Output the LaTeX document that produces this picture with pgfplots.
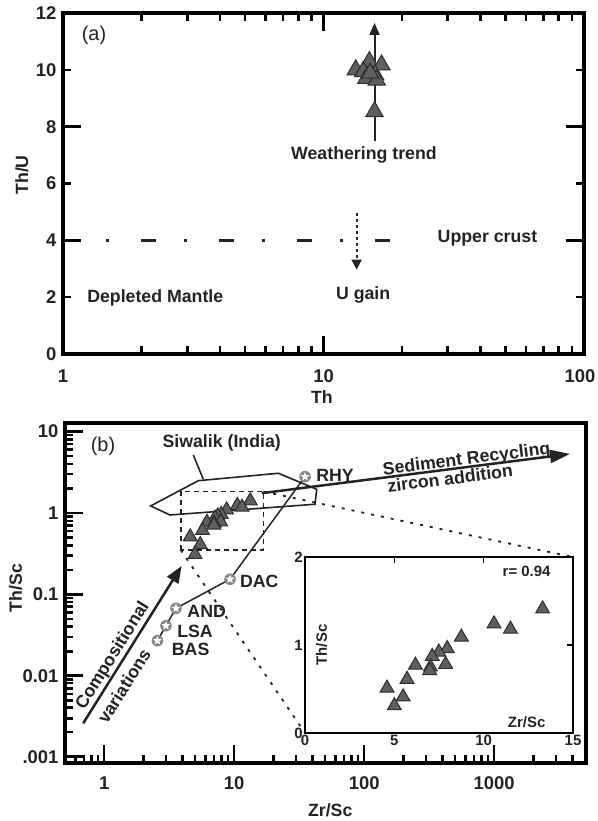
\documentclass[border=0pt]{standalone}
\usepackage{pgfplots}
\pgfplotsset{compat=1.18}
\usepackage{fontspec}
\setmainfont{Liberation Sans}
\usetikzlibrary{arrows.meta}
\definecolor{tri}{RGB}{95,95,95}
\definecolor{triedge}{RGB}{45,45,45}
\definecolor{circ}{RGB}{135,135,135}
\definecolor{ink}{RGB}{35,35,35}
\pgfdeclareplotmark{starcirc}{%
  \pgfpathcircle{\pgfpointorigin}{\pgfplotmarksize}%
  \pgfsetfillcolor{circ}%
  \pgfusepath{fill}%
  \pgfpathmoveto{\pgfpointpolar{90}{0.8\pgfplotmarksize}}%
  \pgfpathlineto{\pgfpointpolar{126}{0.34\pgfplotmarksize}}%
  \pgfpathlineto{\pgfpointpolar{162}{0.8\pgfplotmarksize}}%
  \pgfpathlineto{\pgfpointpolar{198}{0.34\pgfplotmarksize}}%
  \pgfpathlineto{\pgfpointpolar{234}{0.8\pgfplotmarksize}}%
  \pgfpathlineto{\pgfpointpolar{270}{0.34\pgfplotmarksize}}%
  \pgfpathlineto{\pgfpointpolar{306}{0.8\pgfplotmarksize}}%
  \pgfpathlineto{\pgfpointpolar{342}{0.34\pgfplotmarksize}}%
  \pgfpathlineto{\pgfpointpolar{18}{0.8\pgfplotmarksize}}%
  \pgfpathlineto{\pgfpointpolar{54}{0.34\pgfplotmarksize}}%
  \pgfpathclose
  \pgfsetfillcolor{white}%
  \pgfusepath{fill}%
}
\tikzset{
  lab/.style={font=\fontsize{17.8}{19}\selectfont\bfseries, text=ink, inner sep=0pt},
  tk/.style={line width=2.6bp, draw=black},
  tki/.style={line width=1.5bp, draw=black},
  fr/.style={line width=3.2bp, draw=black},
}
\pgfplotstableread{
x y
13.3 10.00
15.0 10.29
16.7 10.17
14.2 9.94
15.8 9.82
14.6 9.70
16.0 9.64
15.1 9.88
15.7 8.53
}\tableA
\pgfplotstableread{
x y
13.3 1.41
10.58 1.24
11.5 1.18
8.75 1.09
7.96 0.96
7.49 0.92
7.12 0.87
6.18 0.77
7.87 0.78
7.02 0.75
6.98 0.71
5.71 0.61
4.59 0.51
5.49 0.41
5.0 0.31
}\tableB
\begin{document}
\begin{tikzpicture}
\path[use as bounding box] (0,0) rectangle (598bp,821bp);
% ---------------- panel (a)
\begin{axis}[
  scale only axis, clip=false,
  at={(63bp,467bp)}, anchor=south west,
  width=521bp, height=341bp,
  xmode=log, xmin=1, xmax=100, ymin=0, ymax=12,
  xtick={1,10,100}, xticklabels={1,10,{100\hspace*{8bp}}},
  ytick={0,2,4,6,8,10,12},
  tick style={draw=none},
  xticklabel style={font=\fontsize{18.5}{19}\selectfont\bfseries, text=ink, yshift=-12bp},
  yticklabel style={font=\fontsize{18.5}{19}\selectfont\bfseries, text=ink, xshift=-3bp},
  xlabel={Th}, ylabel={Th/U},
  label style={font=\fontsize{17.8}{19}\selectfont\bfseries, text=ink},
  xlabel style={at={(axis description cs:0.497,-0.126)}, anchor=center},
  ylabel style={at={(axis description cs:-0.079,0.525)}, anchor=center},
  /pgf/number format/assume math mode=true,
]
\addplot[only marks, mark=triangle*, mark size=10bp,
  mark options={fill=tri, draw=triedge, line width=1bp}] table {\tableA};
\draw[line width=2bp, ink, -{Triangle[length=12bp,width=10bp]}]
  (axis cs:15.7,7.48) -- (axis cs:15.7,11.65);
\draw[line width=2.5bp, ink, dash pattern=on 15bp off 28bp on 3bp off 32bp]
  (axis cs:1,4) -- (axis cs:23,4);
\draw[line width=2bp, ink, dash pattern=on 3bp off 3bp, -{Triangle[length=10bp,width=10bp]}]
  (axis cs:13.4,4.97) -- (axis cs:13.4,2.97);
\node[font=\fontsize{20}{20}\selectfont, text=ink] at (axis cs:1.315,11.23) {(a)};
\node[lab] at (axis cs:14.3,7.0) {Weathering trend};
\node[lab] at (axis cs:42.6,4.06) {Upper crust};
\node[lab] at (axis cs:2.26,1.98) {Depleted Mantle};
\node[lab] at (axis cs:14.2,2.09) {U gain};
\end{axis}
% ---------------- panel (b)
\begin{axis}[
  scale only axis, clip=false,
  at={(65bp,58bp)}, anchor=south west,
  width=521bp, height=340bp,
  xmode=log, ymode=log,
  xmin=0.5, xmax=5090, ymin=0.000857, ymax=12.7,
  tick pos=left,
  xtick={1,10,100,1000}, xticklabels={1,10,100,1000},
  ytick={0.001,0.01,0.1,1,10}, yticklabels={.001,0.01,0.1,1,10},
  tick style={draw=none},
  xticklabel style={font=\fontsize{18.5}{19}\selectfont\bfseries, text=ink, yshift=-10bp},
  yticklabel style={font=\fontsize{18.5}{19}\selectfont\bfseries, text=ink, xshift=-3bp},
  xlabel={Zr/Sc}, ylabel={Th/Sc},
  label style={font=\fontsize{17.8}{19}\selectfont\bfseries, text=ink},
  xlabel style={at={(axis description cs:0.509,-0.138)}, anchor=center},
  ylabel style={at={(axis description cs:-0.095,0.515)}, anchor=center},
  /pgf/number format/assume math mode=true,
]
\draw[line width=1.8bp, ink, dash pattern=on 3bp off 7bp] (axis cs:16.8,1.83) -- (axis cs:4045,0.288);
\draw[line width=1.8bp, ink, dash pattern=on 3bp off 7bp] (axis cs:3.88,0.352) -- (axis cs:35.1,0.0020);
\addplot[only marks, mark=triangle*, mark size=8bp,
  mark options={fill=tri, draw=triedge, line width=1bp}] table {\tableB};
\draw[line width=1.6bp, ink] (axis cs:2.28,1.22) -- (axis cs:5.3,2.49) -- (axis cs:21.9,3.07)
  -- (axis cs:43.2,1.95) -- (axis cs:41.9,1.28) -- (axis cs:3.21,0.945) -- cycle;
\draw[line width=1.6bp, ink] (axis cs:5.79,2.59) -- (axis cs:4.85,5.15);
\node[lab] at (axis cs:8.02,7.17) {Siwalik (India)};
\draw[line width=1.8bp, ink, dash pattern=on 5bp off 4bp] (axis cs:3.88,0.352) rectangle (axis cs:16.8,1.83);
\addplot[line width=1.5bp, ink, mark=starcirc, mark size=5.8bp] coordinates {
(2.57,0.0271) (2.99,0.0414) (3.57,0.0677) (9.30,0.154) (35.1,2.79)};
\node[lab] at (axis cs:59.7,2.93) {RHY};
\node[lab] at (axis cs:15.6,0.1436) {DAC};
\node[lab] at (axis cs:6.15,0.0615) {AND};
\node[lab] at (axis cs:5.0,0.0357) {LSA};
\node[lab] at (axis cs:4.63,0.0213) {BAS};
\draw[line width=2.5bp, ink, -{Triangle[length=20bp,width=13bp]}] (axis cs:16.3,1.75) -- (axis cs:3837,5.3);
\node[lab, rotate=7.2] at (axis cs:615,4.47) {Sediment Recycling};
\node[lab, rotate=7.2] at (axis cs:458,2.67) {zircon addition};
\draw[line width=2.5bp, ink, -{Triangle[length=17bp,width=13bp]}] (axis cs:0.69,0.00263) -- (axis cs:3.95,0.224);
\node[lab, rotate=58] at (axis cs:1.17,0.0176) {Compositional};
\node[lab, rotate=58] at (axis cs:1.42,0.00754) {variations};
\node[font=\fontsize{20}{20}\selectfont, text=ink] at (axis cs:0.98,6.64) {(b)};
\end{axis}
% ---------------- frames and inward ticks of (a) and (b)
\draw[line width=2.5bp, ink] (569.5bp,580.67bp) -- (584bp,580.67bp);
\foreach \v in {2,3,4,5,6,7,8,9,20,30,40,50,60,70,80,90} {
  \draw[tk] ({63bp+260.5bp*log10(\v)},467bp) -- ++(0,8bp);
  \draw[tk] ({63bp+260.5bp*log10(\v)},808bp) -- ++(0,-8bp);
}
\draw[tk] (323.5bp,467bp) -- ++(0,18bp);
\draw[tk] (323.5bp,808bp) -- ++(0,-18bp);
\foreach \y in {580.67bp,694.33bp} {
  \draw[tk] (63bp,\y) -- ++(18bp,0);
  \draw[tk] (584bp,\y) -- ++(-18bp,0);
}
\foreach \y in {523.83bp,637.5bp,751.17bp} {
  \draw[tk] (63bp,\y) -- ++(8bp,0);
  \draw[tk] (584bp,\y) -- ++(-8bp,0);
}
\draw[fr] (63bp,467bp) rectangle (584bp,808bp);
\foreach \v in {0.6,0.7,0.8,0.9,2,3,4,5,6,7,8,9,20,30,40,50,60,70,80,90,200,300,400,500,600,700,800,900,2000,3000,4000,5000} {
  \draw[tk] ({65bp+130bp*(log10(\v)+0.30103)},58bp) -- ++(0,8bp);
}
\foreach \v in {1,10,100,1000} {
  \draw[tk] ({65bp+130bp*(log10(\v)+0.30103)},58bp) -- ++(0,18bp);
}
\foreach \v in {0.002,0.003,0.004,0.005,0.006,0.007,0.008,0.009,0.02,0.03,0.04,0.05,0.06,0.07,0.08,0.09,0.2,0.3,0.4,0.5,0.6,0.7,0.8,0.9,2,3,4,5,6,7,8,9} {
  \draw[tk] (65bp,{58bp+81.52bp*(log10(\v)+3.06702)}) -- ++(8bp,0);
}
\foreach \v in {0.001,0.01,0.1,1,10} {
  \draw[tk] (65bp,{58bp+81.52bp*(log10(\v)+3.06702)}) -- ++(18bp,0);
}
\draw[fr] (65bp,58bp) rectangle (586bp,398bp);
% ---------------- inset
\begin{axis}[
  scale only axis, clip=false,
  at={(305bp,88bp)}, anchor=south west,
  width=268bp, height=176bp,
  xmin=0, xmax=15, ymin=0, ymax=2,
  xtick={0,5,10,15}, ytick={0,1,2},
  ticklabel pos=left,
  tick style={draw=none},
  axis background/.style={fill=white},
  tick label style={font=\fontsize{15}{15}\selectfont\bfseries, text=ink, inner sep=2bp},
  /pgf/number format/assume math mode=true,
]
\addplot[only marks, mark=triangle*, mark size=8bp,
  mark options={fill=tri, draw=triedge, line width=1bp}] table {\tableB};
\node[font=\fontsize{15}{15}\selectfont\bfseries, text=ink, rotate=90] at (axis description cs:0.062,0.5) {Th/Sc};
\node[font=\fontsize{15}{15}\selectfont\bfseries, text=ink] at (axis description cs:0.827,0.064) {Zr/Sc};
\node[font=\fontsize{15}{15}\selectfont\bfseries, text=ink] at (axis description cs:0.827,0.917) {r= 0.94};
\end{axis}
\draw[tki] (394.33bp,264bp) -- ++(0,-6bp);
\draw[tki] (483.67bp,264bp) -- ++(0,-6bp);
\draw[tki] (573bp,176bp) -- ++(-6bp,0);
\draw[line width=1.8bp, black] (305bp,88bp) rectangle (573bp,264bp);
\end{tikzpicture}
\end{document}
